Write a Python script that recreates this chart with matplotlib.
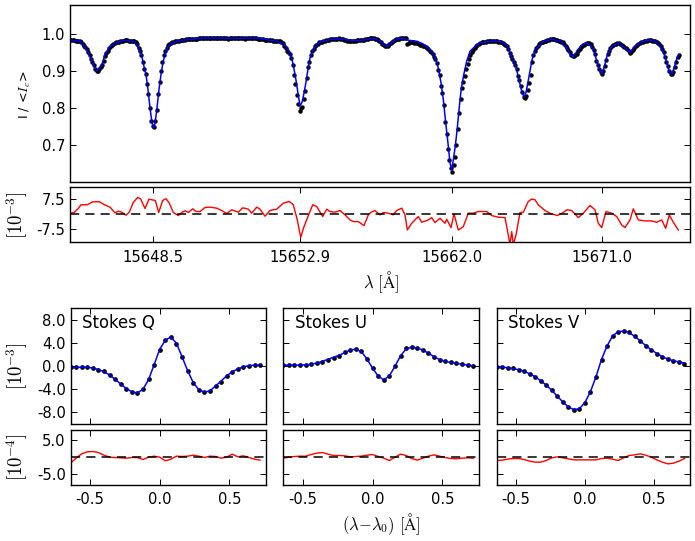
from matplotlib import pyplot as plt
import matplotlib as mpl
import numpy as np

mpl.rcParams['mathtext.fontset'] = 'cm'
mpl.rcParams['font.size'] = 10.6
mpl.rcParams['xtick.direction'] = 'in'
mpl.rcParams['ytick.direction'] = 'in'

W, H = 695, 541

# ===================== spectrum (x is sample position along the map) =====================
obs_step = 1.4
obs_i = [
    983,984,983,983,982,982,981,980,978,974,
    968,965,958,950,942,932,924,915,905,901,
    900,904,910,917,928,940,948,955,963,968,
    970,972,975,977,978,979,980,981,982,983,
    983,983,982,982,981,981,980,978,973,963,
    955,942,925,905,893,866,838,800,765,750,
    748,765,795,838,870,900,925,942,955,962,
    969,972,975,977,979,980,981,982,982,983,
    983,984,984,985,985,986,986,986,987,987,
    987,987,988,988,989,989,989,990,989,989,
    989,990,989,989,988,989,989,990,989,989,
    989,988,988,987,988,989,988,989,988,988,
    989,988,988,989,988,987,988,989,990,988,
    988,989,989,988,987,986,986,985,985,984,
    984,984,983,983,983,982,982,982,981,980,
    980,978,975,967,962,955,950,945,936,916,
    888,866,835,810,791,800,803,825,845,882,
    910,925,942,954,960,967,970,974,977,978,
    979,980,982,983,983,984,985,985,986,987,
    987,987,988,987,986,985,984,983,982,982,
    982,982,981,982,982,983,983,983,983,984,
    984,985,986,987,988,988,988,988,987,985,
    983,981,978,974,970,967,966,968,972,976,
    978,980,983,985,986,987,988,989,990,989,
    988,974,976,977,977,977,976,975,975,974,
    970,969,968,966,964,961,958,954,950,945,
    938,931,922,902,888,860,840,808,762,730,
    688,660,638,626,645,668,700,742,785,825,
    855,870,885,905,918,932,942,950,957,963,
    966,970,974,976,977,978,979,979,980,980,
    980,980,981,981,980,980,979,978,977,975,
    974,970,966,958,948,940,932,925,915,905,
    886,875,860,843,830,828,832,848,868,890,
    925,942,955,963,968,972,975,977,979,981,
    982,983,984,985,985,985,985,984,983,982,
    981,979,977,974,968,962,956,950,944,940,
    939,942,947,953,958,964,968,971,973,975,
    975,975,972,965,957,945,928,915,905,896,
    893,900,912,930,945,955,963,968,971,973,
    974,975,975,974,971,968,965,962,958,954,
    949,952,956,961,966,969,972,975,977,979,
    980,981,982,983,983,983,982,981,980,979,
    976,973,968,960,952,938,925,912,899,893,
    891,897,910,925,938,944,
]

fit_x = [0,10,14,18,22,25,27,29,32,35,40,47,55,65,69,72,74,76,78,80,82,83.5,85,87,89,91,93,95,98,103,
         113,133,167,187,207,214,218,221,224,226,228,230,232,234,236,238,240,242,245,250,257,267,283,293,
         303,308,313,317,322,327,333,338,347,353,360,365,368.3,371,373.3,375.7,378.3,380,381.7,383.3,385.3,
         387.3,389.3,391.3,394,396.7,400,405,410,423,432,437,440,443,446,449,452,454,456,458,460,462,465,
         472,482,492,497,500,503.3,508,513,518,523,527,530,532,534,537,542,548,555,560,565,573,580,588,593,
         597,599,602,604,607,609]
fit_i = [.983,.98,.968,.95,.925,.906,.901,.906,.918,.944,.966,.977,.983,.978,.958,.937,.912,.89,.85,.80,
         .76,.746,.758,.80,.85,.89,.923,.945,.966,.977,.983,.989,.988,.989,.98,.972,.958,.945,.905,.875,
         .84,.805,.815,.84,.87,.905,.935,.95,.965,.978,.983,.987,.982,.983,.988,.983,.974,.966,.977,.986,
         .989,.983,.98,.973,.958,.938,.908,.868,.823,.76,.697,.652,.633,.66,.697,.746,.803,.853,.893,.926,
         .953,.966,.976,.981,.978,.968,.95,.93,.91,.876,.842,.83,.842,.87,.90,.93,.955,.978,.986,.978,.962,
         .945,.938,.958,.973,.975,.96,.926,.90,.893,.908,.94,.967,.975,.962,.95,.967,.98,.984,.976,.953,
         .922,.899,.892,.908,.935,.944]

res_x = [0,4,8.3,11,17.3,22.7,29.3,34,40,45,48.3,51.7,56,59.3,63.3,67.7,70.7,75,79,81.7,85.3,88.7,92.7,96,
         99.3,103.3,108.3,112.7,115.3,118.3,122.7,126,130,135,140,146.7,151.7,156.7,161.7,168.3,172.7,178.3,
         181.7,186.7,190,195,200,206.7,213.3,219.3,223.3,227.3,230.7,234,237.3,242.7,246.7,252.7,256.7,260,
         265,270,275,280,283.3,288.3,294,298.3,300.7,305,310,313.3,318.3,323.3,326.7,331.7,335,337.3,341.7,
         348.3,351.7,358.3,361.7,365,370,375,376.7,381,384,388.3,393.3,398.3,403.3,408.3,416.7,421.7,428.3,
         435,438.3,440,441.7,443.3,446,450,453.3,458.3,461.7,465,468.3,475,480,487.3,493.3,496.7,501.7,508.3,
         513.3,520,525,528.3,531.7,536,541.7,546.7,551.7,555,560,563.3,568.3,575,581.7,586.7,591.7,595.7,
         599.3,603.3,608.3]
res_y = [.5,.83,2.83,4.67,4.67,6.17,6.17,4.83,3.5,.67,1.5,1,-.5,1,5.83,8.33,7.5,2.83,7.5,7.17,6.83,.83,6.83,
         7.67,5.5,.83,-.67,1.17,1.67,.83,2.67,1.33,1.33,3.33,3.5,3,1.83,.33,2.17,1,3.17,2.5,.5,3.5,2.5,-1,
         1.83,2.5,5.5,6.33,4.67,-2.83,-11.5,-6.17,-2,4.67,3.83,-1.17,2.5,1.33,1,1.83,-.33,-2.83,-3.67,-3.67,
         -5.67,-.33,.83,1.83,-.33,.83,.5,-.33,1.83,3,-.33,-7.83,-4.5,-1.17,-4,-2.83,-1.67,-4.17,-2,-4.5,-2.5,
         -6.67,.17,-7.83,-6.17,.5,.5,1.33,1.33,-.67,-1.5,-1.67,-10.33,-15,-8.67,-15,-10.33,.83,1,6.33,7.5,
         7.17,4.67,1.83,.5,-.67,.83,2.17,1.83,-1.67,.5,4.33,2.17,-4.5,-6.67,1.33,.5,-1.17,-5.33,-6.67,-2.83,
         2.67,-2.83,-3.33,-3.33,-4,-2.83,-7,-.33,-4,-7.83]

spec_ticks = [83, 230, 382, 532]
spec_labels = ['15648.5', '15652.9', '15662.0', '15671.0']

# ===================== stokes profiles =====================
dl = [-.64,-.60,-.56,-.52,-.48,-.44,-.40,-.36,-.32,-.28,-.24,-.20,-.16,-.12,-.08,-.04,0.0,.04,.08,.12,
      .16,.20,.24,.28,.32,.36,.40,.44,.48,.52,.56,.60,.64,.68,.72]

q_obs = [-.23,-.17,-.17,-.17,-.34,-.63,-.92,-1.55,-2.24,-3.16,-3.91,-4.48,-4.71,-3.97,-2.24,.17,2.76,4.48,5.06,
         3.85,1.55,-.80,-2.87,-4.14,-4.48,-4.31,-3.39,-2.70,-1.67,-1.03,-.46,-.11,.06,.17,.23]
q_fit = [-.30,-.25,-.20,-.20,-.35,-.60,-1.00,-1.55,-2.30,-3.10,-3.90,-4.45,-4.65,-4.00,-2.35,.25,2.90,4.45,5.00,
         3.90,1.60,-.80,-2.85,-4.10,-4.50,-4.30,-3.45,-2.60,-1.70,-1.00,-.50,-.15,.05,.15,.20]
q_res = [-1.80,-.34,.92,1.50,1.60,1.31,.53,-.05,-.15,-.24,-.34,-.15,-.15,-.73,-.05,.24,-.05,-1.12,-.63,.24,.15,
         .24,.53,.24,-.15,.24,.15,-.34,-.05,.82,.05,.34,-.15,-.63,-.92]

u_obs = [.17,.17,.17,.17,.17,.34,.57,.75,1.09,1.44,1.67,2.36,2.82,2.99,2.53,1.21,-.34,-1.72,-2.41,-1.72,0,1.67,
         3.05,3.33,3.16,2.70,2.18,1.55,1.03,.80,.63,.52,.29,.17,0]
u_fit = [.15,.15,.15,.15,.2,.3,.5,.8,1.15,1.5,1.85,2.3,2.75,2.9,2.45,1.2,-.4,-1.75,-2.4,-1.7,-.05,1.75,2.95,3.25,
         3.1,2.75,2.2,1.6,1.1,.8,.6,.45,.3,.15,.05]
u_res = [-.34,-.05,.15,.24,.24,.73,1.12,1.31,.83,.44,.44,.34,.05,.15,.24,.53,.73,.15,-.34,-1.02,-.05,.83,.44,-.44,
         -.92,-.34,.24,.63,.24,-.15,-.44,-.53,-.34,-.24,-.34]

v_obs = [-.17,-.17,-.40,-.34,-.69,-.80,-1.44,-1.90,-2.59,-3.22,-4.14,-5.23,-6.21,-7.13,-7.64,-7.41,-6.38,-4.48,
         -1.90,1.03,3.39,5.17,5.86,6.09,5.80,5.11,4.31,3.45,2.76,2.07,1.55,1.26,.86,.75,.40]
v_fit = [-.15,-.2,-.3,-.45,-.65,-.9,-1.35,-1.85,-2.55,-3.3,-4.2,-5.2,-6.2,-7.05,-7.55,-7.35,-6.3,-4.4,-1.85,1.15,
         3.45,5.2,5.9,6.0,5.75,5.1,4.35,3.5,2.8,2.15,1.6,1.2,.9,.7,.5]
v_res = [-1.02,-.92,-.63,-.44,-.44,-.73,-1.21,-1.50,-1.50,-1.02,-.24,.05,-.24,-.53,-.83,-.83,-.83,-.83,-.83,-.44,
         -.34,-.63,-1.02,-.24,.44,.63,.92,.53,-.05,-.83,-1.50,-1.99,-1.80,-1.21,-.44]


def pix_axes(fig, x0, x1, y0, y1):
    ax = fig.add_axes([x0 / W, 1 - y1 / H, (x1 - x0) / W, (y1 - y0) / H])
    ax.tick_params(top=True, right=True, length=4, width=0.7)
    for s in ax.spines.values():
        s.set_linewidth(1.0)
    return ax


def pix_text(fig, x, y, s, **kw):
    fig.text(x / W, 1 - y / H, s, ha='center', va='center', **kw)


fig = plt.figure(figsize=(W / 100, H / 100), dpi=100)

# ===================== top panel =====================
ax = pix_axes(fig, 70, 690, 5, 182)
obs_x = np.arange(len(obs_i)) * obs_step
ax.plot(obs_x, np.array(obs_i) / 1000, 'o', color='k', ms=3.2, mew=0)
ax.plot(fit_x, fit_i, '-', color='b', lw=1.1)
ax.set_xlim(0, 620)
ax.set_ylim(0.6, 1.078)
ax.set_xticks([])
ax.set_yticks([0.7, 0.8, 0.9, 1.0])
ax.set_yticklabels(['0.7', '0.8', '0.9', '1.0'])

ax = pix_axes(fig, 70, 690, 187, 242)
ax.plot(res_x, res_y, '-', color='r', lw=1.0)
ax.plot([0, 620], [0, 0], 'k--', lw=1.1, dashes=(6, 4))
ax.set_xlim(0, 620)
ax.set_ylim(-13.8, 13.5)
ax.set_yticks([-7.5, 7.5])
ax.set_yticklabels(['-7.5', '7.5'])
ax.set_xticks(spec_ticks)
ax.set_xticklabels(spec_labels)
ax.tick_params(axis='x', pad=5.5)

# ===================== stokes panels =====================
panels = [
    (70.5, 265.7, 'Stokes Q', q_obs, q_fit, q_res),
    (283.3, 478.7, 'Stokes U', u_obs, u_fit, u_res),
    (496.5, 690, 'Stokes V', v_obs, v_fit, v_res),
]

for k, (x0, x1, name, obs, fit, res) in enumerate(panels):
    ax = pix_axes(fig, x0, x1, 308, 424)
    ax.plot(dl, obs, 'o', color='k', ms=3.4, mew=0)
    ax.plot(dl, fit, '-', color='b', lw=1.1)
    ax.set_xlim(-0.64, 0.76)
    ax.set_ylim(-10, 10)
    ax.set_xticks([-0.5, 0.0, 0.5])
    ax.set_xticklabels([])
    ax.set_yticks([-8, -4, 0, 4, 8])
    if k == 0:
        ax.set_yticklabels(['-8.0', '-4.0', '0.0', '4.0', '8.0'])
    else:
        ax.set_yticklabels([])
    ax.text(0.06, 0.875, name, transform=ax.transAxes, fontsize=11.9, ha='left', va='center')

    ax = pix_axes(fig, x0, x1, 429.5, 484.5)
    ax.plot(dl, res, '-', color='r', lw=1.0)
    ax.plot([-0.64, 0.76], [0, 0], 'k--', lw=1.1, dashes=(6, 4))
    ax.set_xlim(-0.64, 0.76)
    ax.set_ylim(-8, 8)
    ax.set_xticks([-0.5, 0.0, 0.5])
    ax.set_xticklabels(['-0.5', '0.0', '0.5'])
    ax.set_yticks([-5, 5])
    if k == 0:
        ax.set_yticklabels(['-5.0', '5.0'])
    else:
        ax.set_yticklabels([])
    ax.tick_params(axis='x', pad=5.5)

# ===================== labels =====================
pix_text(fig, 25, 95, r'I / <$I_c$>', rotation=90, fontsize=9.2)
pix_text(fig, 17, 215, r'$[10^{-3}]$', rotation=90, fontsize=13.5)
pix_text(fig, 17, 366, r'$[10^{-3}]$', rotation=90, fontsize=13.5)
pix_text(fig, 17, 457, r'$[10^{-4}]$', rotation=90, fontsize=13.5)
pix_text(fig, 381, 282, r'$\lambda\ [\mathrm{\AA}]$', fontsize=12)
pix_text(fig, 381, 524, r'$(\lambda{-}\lambda_0)\ [\mathrm{\AA}]$', fontsize=12)

plt.savefig('out.png', dpi=100)
